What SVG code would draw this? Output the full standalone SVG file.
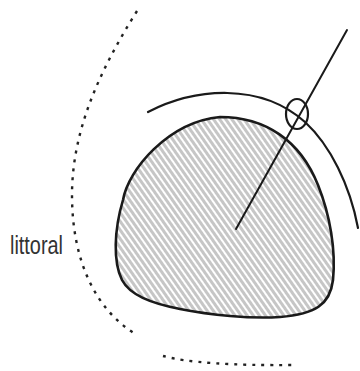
<svg xmlns="http://www.w3.org/2000/svg" width="360" height="371" viewBox="0 0 360 371">
  <style>
    .ln { fill: none; stroke: #1a1a1a; stroke-linecap: round; }
    .body { fill: url(#hatch); stroke: #1a1a1a; stroke-width: 2.6; }
    .dots { fill: none; stroke: #222; stroke-width: 2.4; stroke-dasharray: 3 6; }
    .lbl { font-family: "Liberation Sans", Arial, sans-serif; font-size: 25px; fill: #333; }
  </style>
  <defs>
    <pattern id="hatch" width="5" height="10" patternUnits="userSpaceOnUse" patternTransform="rotate(-35)">
      <rect width="5" height="10" fill="#ffffff"/>
      <rect width="3" height="10" fill="#c6c6c6"/>
    </pattern>
  </defs>
  <rect width="360" height="371" fill="#ffffff"/>
  <g id="littoral-zone">
    <path class="dots" d="M137,11 C100,70 72,130 72,195 C72,260 95,310 137,335"/>
    <path class="dots" d="M163,356 Q200,366 296,365"/>
    <text class="lbl" x="10" y="254" textLength="53" lengthAdjust="spacingAndGlyphs">littoral</text>
  </g>
  <g id="body">
    <path class="body" d="M220,117 C265,117 300,140 318,185 C330,215 336,250 333,280 C330,305 315,314 280,317 C250,319 210,315 180,309 C150,303 130,295 122,280 C113,262 114,230 123,200 C128,170 168,122 220,117 Z"/>
  </g>
  <g id="outer-arc">
    <path class="ln" stroke-width="2.2" d="M148,112 C195,88 260,82 305,122 C330,145 350,185 358,228"/>
  </g>
  <g id="connectors">
    <line class="ln" stroke-width="2" x1="347" y1="30" x2="236" y2="229"/>
  </g>
  <g id="marker-circle">
    <ellipse class="ln" stroke-width="2.2" cx="297" cy="114" rx="11" ry="15"/>
  </g>
</svg>
